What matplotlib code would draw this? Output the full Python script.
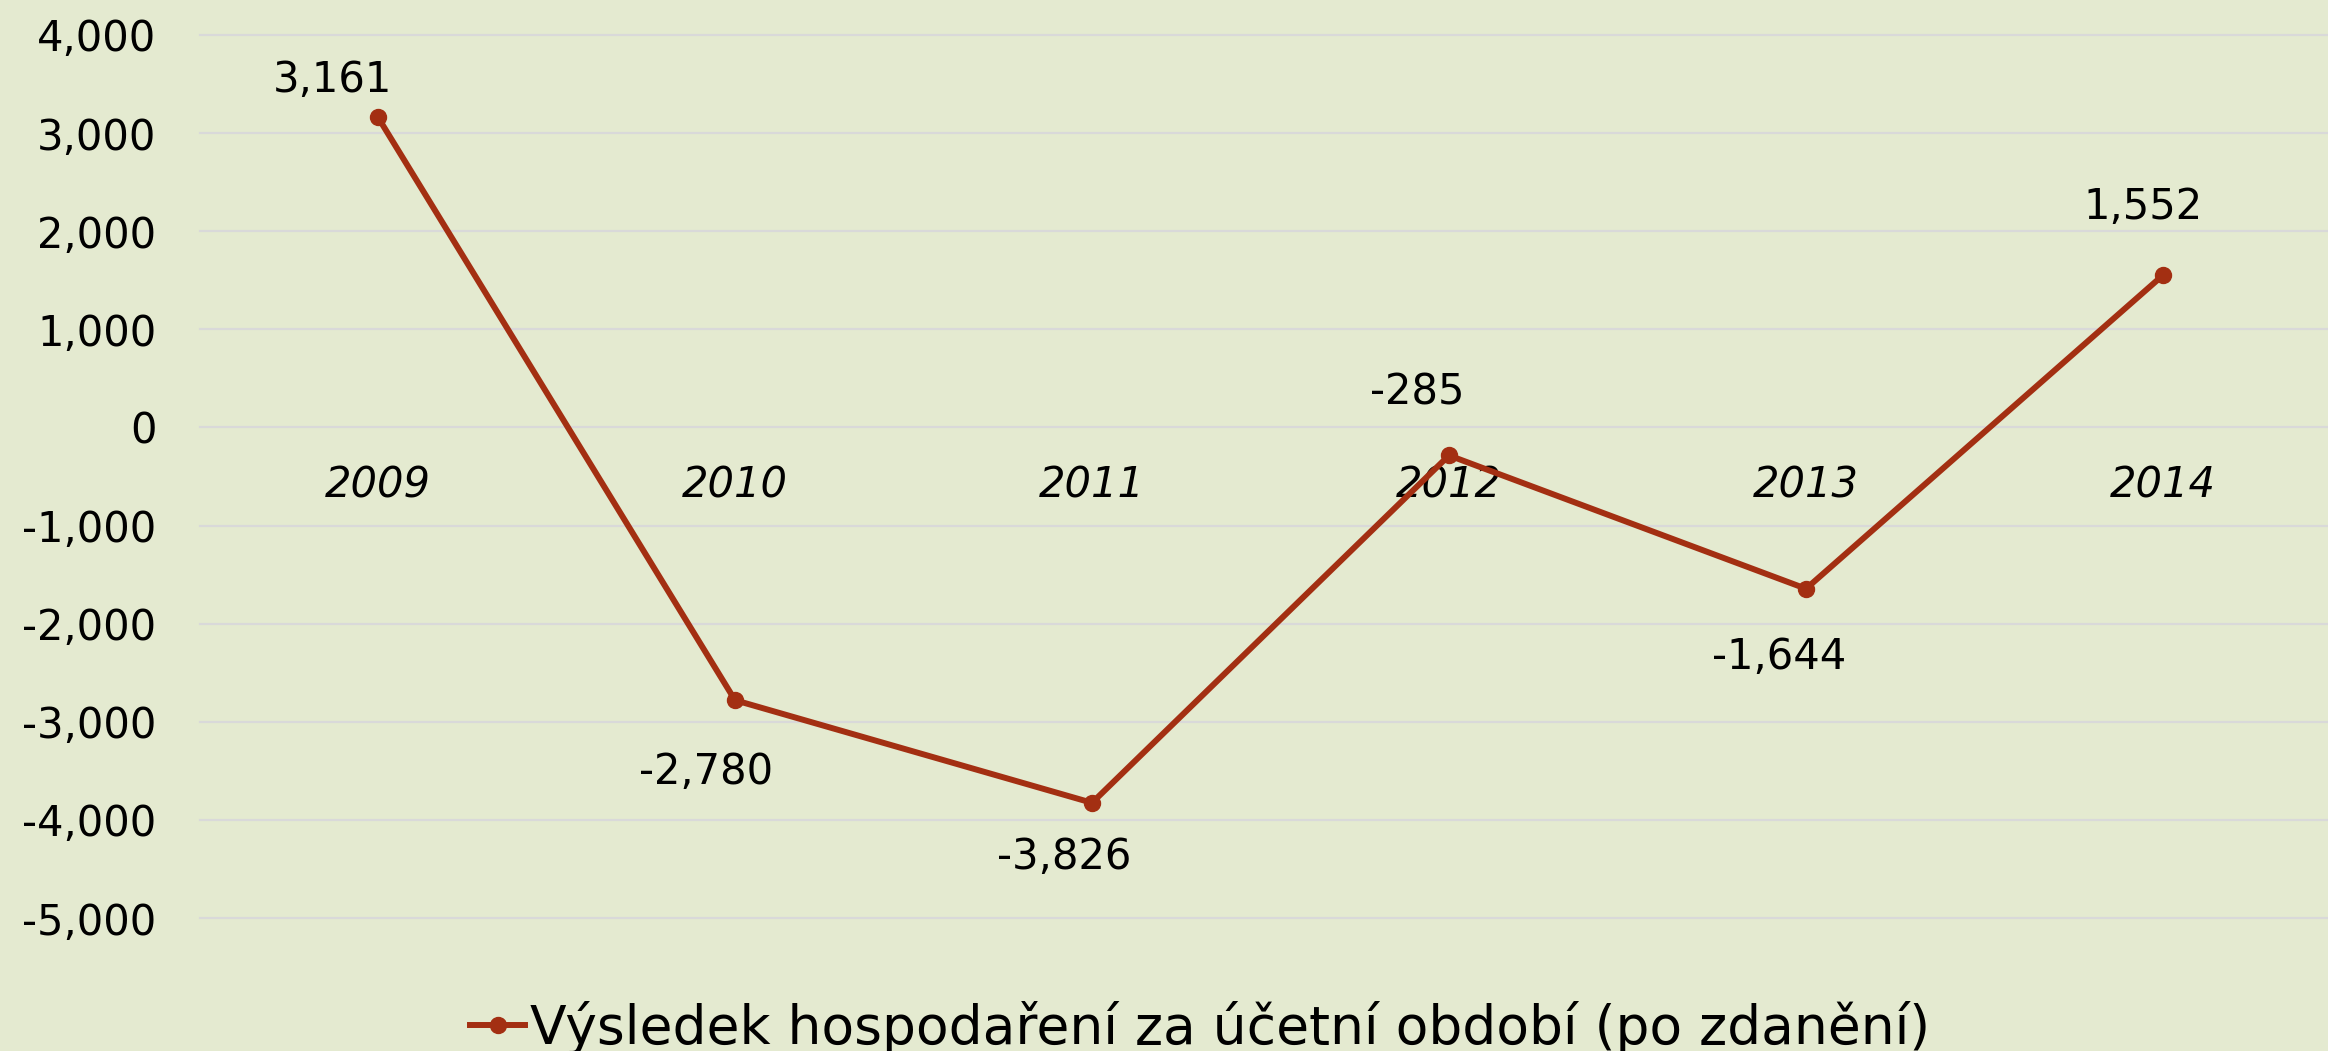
import numpy as np
import matplotlib
matplotlib.use("Agg")
import matplotlib.pyplot as plt
from matplotlib.ticker import FuncFormatter

years = ["2009", "2010", "2011", "2012", "2013", "2014"]
result = [3161, -2780, -3826, -285, -1644, 1552]
series_name = "Výsledek hospodaření za účetní období (po zdanění)"

bg = "#E4EAD0"
line_col = "#A32F12"
grid_col = "#D9D9D9"

plt.rcParams["font.family"] = ["DejaVu Sans"]
plt.rcParams["axes.unicode_minus"] = False

fig = plt.figure(figsize=(23.28, 10.51), dpi=100, facecolor=bg)
ax = fig.add_axes([199.5 / 2328, 133 / 1051, 2142 / 2328, 883 / 1051])
ax.set_facecolor(bg)

x = np.arange(len(years))
line, = ax.plot(x, result, color=line_col, lw=4.3, marker="o", ms=11.5,
                solid_joinstyle="round", label=series_name, zorder=3)

ax.set_xlim(-0.5, len(years) - 0.5)
ax.set_ylim(-5000, 4000)
ax.set_yticks(np.arange(-5000, 4001, 1000))
ax.yaxis.set_major_formatter(FuncFormatter(lambda v, p: f"{v:,.0f}"))
ax.grid(axis="y", color=grid_col, lw=1.6)
for gl in ax.get_ygridlines():
    gl.set_clip_on(False)
ax.set_axisbelow(True)

for s in ["top", "right", "left"]:
    ax.spines[s].set_visible(False)
ax.spines["bottom"].set_position(("data", 0))
ax.spines["bottom"].set_visible(False)

ax.set_xticks(x)
ax.set_xticklabels(years, fontstyle="italic")
ax.tick_params(axis="x", length=0, pad=27, labelsize=30)
ax.tick_params(axis="y", length=0, pad=31, labelsize=30)

# label offsets in pixels (dx, dy)
offs = [(-45, 37), (-29, -72), (-28, -54), (-32, 63), (-27, -68), (-20, 68)]
for xi, v, (dx, dy) in zip(x, result, offs):
    ax.annotate(f"{v:,}", (xi, v), xytext=(dx, dy), textcoords="offset pixels",
                ha="center", va="center", fontsize=30)

leg = fig.legend(handles=[line], loc="lower left", bbox_to_anchor=(470 / 2328, -0.004),
                 frameon=False, fontsize=38.5, handlelength=1.03, handletextpad=0.09,
                 borderpad=0, borderaxespad=0)

fig.savefig("out.png", dpi=100, facecolor=bg)
